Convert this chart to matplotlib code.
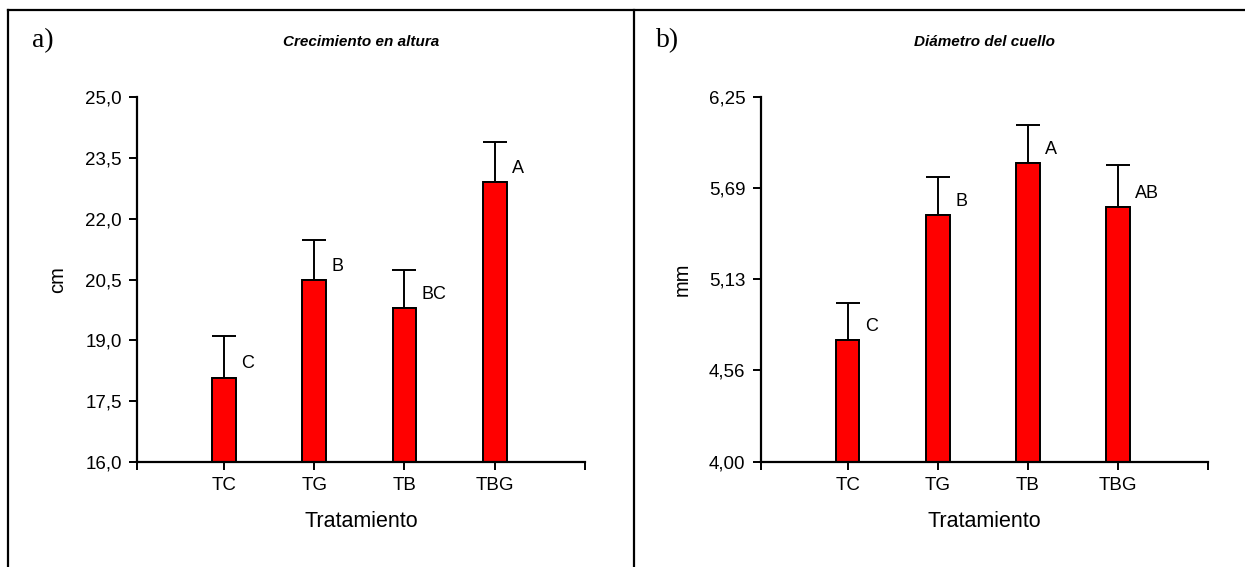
import numpy as np
import matplotlib
matplotlib.use("Agg")
from matplotlib import pyplot as plt
from matplotlib.lines import Line2D

plt.rcParams['font.family'] = ['Liberation Sans', 'DejaVu Sans']

# tratamientos
tratamientos = ['TC', 'TG', 'TB', 'TBG']

# a) crecimiento en altura (cm)
altura = [18.08, 20.48, 19.79, 22.90]
altura_err = [1.02, 1.00, 0.94, 0.99]
altura_letras = ['C', 'B', 'BC', 'A']
altura_ticks = [16.0, 17.5, 19.0, 20.5, 22.0, 23.5, 25.0]
altura_ticklabels = ['16,0', '17,5', '19,0', '20,5', '22,0', '23,5', '25,0']

# b) diametro del cuello (mm)
diametro = [4.75, 5.52, 5.84, 5.57]
diametro_err = [0.23, 0.235, 0.235, 0.26]
diametro_letras = ['C', 'B', 'A', 'AB']
diametro_ticks = [4.0, 4.5625, 5.125, 5.6875, 6.25]
diametro_ticklabels = ['4,00', '4,56', '5,13', '5,69', '6,25']

x = np.arange(1, len(tratamientos) + 1)
ancho = 0.265
x_lim = (0.035, 5.0)

fig = plt.figure(figsize=(12.45, 5.67), dpi=100)
ax1 = fig.add_axes([0.110, 0.185, 0.3598, 0.6437])
ax2 = fig.add_axes([0.611, 0.186, 0.3590, 0.6433])


def panel(ax, vals, errs, letras, ticks, ticklabels, ylabel, titulo, ylx):
    ax.bar(x, vals, width=ancho, color='#ff0000', edgecolor='black',
           linewidth=1.4, zorder=2)
    ax.errorbar(x, vals, yerr=[np.zeros(len(vals)), errs], fmt='none',
                ecolor='black', elinewidth=1.4, capsize=8.5, capthick=1.4,
                zorder=1)
    for xi, v, l in zip(x, vals, letras):
        ax.annotate(l, xy=(xi + ancho / 2, v), xytext=(4, 10),
                    textcoords='offset points', ha='left', va='center',
                    fontsize=13)
    ax.set_ylim(ticks[0], ticks[-1])
    ax.set_xlim(*x_lim)
    ax.set_yticks(ticks)
    ax.set_yticklabels(ticklabels, fontsize=13.5)
    ax.set_xticks(x)
    ax.set_xticklabels(tratamientos, fontsize=13.5)
    ax.set_xticks(list(x_lim), minor=True)
    ax.tick_params(which='both', direction='out', length=6, width=1.4,
                   color='black', pad=5)
    ax.spines['top'].set_visible(False)
    ax.spines['right'].set_visible(False)
    ax.spines['left'].set_linewidth(1.6)
    ax.spines['bottom'].set_linewidth(1.6)
    ax.set_xlabel('Tratamiento', fontsize=15.5)
    ax.xaxis.set_label_coords(0.5, -0.135)
    ax.set_ylabel(ylabel, fontsize=14.5)
    ax.yaxis.set_label_coords(ylx, 0.5)
    ax.set_title(titulo, fontsize=11, fontweight='bold', fontstyle='italic',
                 pad=0, y=1.14)


panel(ax1, altura, altura_err, altura_letras, altura_ticks, altura_ticklabels,
      'cm', 'Crecimiento en altura', -0.155)
panel(ax2, diametro, diametro_err, diametro_letras, diametro_ticks,
      diametro_ticklabels, 'mm', 'Diámetro del cuello', -0.155)

fig.text(43 / 1245, 1 - 41 / 567, 'a)', family='Liberation Serif',
         fontsize=20, ha='center', va='center')
fig.text(668 / 1245, 1 - 41 / 567, 'b)', family='Liberation Serif',
         fontsize=20, ha='center', va='center')

# marco
lw = 1.6
fig.add_artist(Line2D([8 / 1245, 8 / 1245], [0, 1 - 10 / 567], color='black', lw=lw))
fig.add_artist(Line2D([8 / 1245, 1], [1 - 10 / 567, 1 - 10 / 567], color='black', lw=lw))
fig.add_artist(Line2D([634 / 1245, 634 / 1245], [0, 1 - 10 / 567], color='black', lw=lw))

fig.savefig('out.png', dpi=100)
